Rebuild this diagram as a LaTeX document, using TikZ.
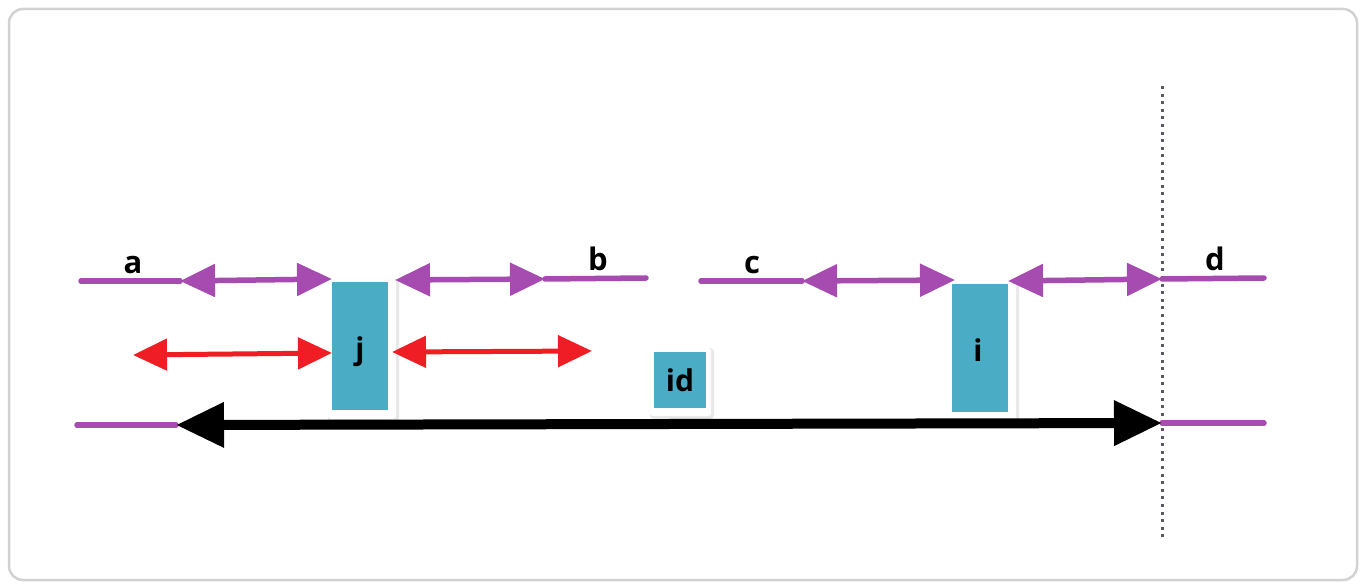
\documentclass[tikz,border=0pt]{standalone}
\usepackage{fontspec}
\setmainfont{Open Sans}
\usetikzlibrary{arrows.meta}
\definecolor{purp}{RGB}{166,76,176}
\definecolor{redarr}{RGB}{238,30,36}
\definecolor{boxblue}{RGB}{75,172,198}
\definecolor{dotgray}{RGB}{90,90,100}
\begin{document}
\begin{tikzpicture}[x=1pt,y=-1pt,
  lbl/.style={font=\fontsize{31}{36}\selectfont\bfseries, inner sep=0pt, anchor=base},
  blk/.style={fill=boxblue, draw=none, inner sep=0pt, font=\fontsize{30}{36}\selectfont\bfseries},
  shadowbox/.style={fill=gray!18, rounded corners=4pt},
  pline/.style={draw=purp, line width=5.5pt, line cap=round},
  parr/.style={draw=purp, line width=5.5pt, {Triangle[length=35pt,width=32pt]}-{Triangle[length=35pt,width=32pt]}},
  rarr/.style={draw=redarr, line width=5pt, {Triangle[length=34pt,width=31pt]}-{Triangle[length=34pt,width=31pt]}},
  barr/.style={draw=black, line width=10pt, {Triangle[length=48pt,width=43pt]}-{Triangle[length=48pt,width=43pt]}}
]
\useasboundingbox (0,0) rectangle (1366,588);
\draw[draw=gray!35, line width=2.5pt, rounded corners=14pt, fill=white] (9,9) rectangle (1357,580);

% box shadows
\fill[shadowbox] (328,279) rectangle (399,422);
\fill[white, rounded corners=3pt] (328,279) rectangle (396,419);
\fill[shadowbox] (948,281) rectangle (1019,424);
\fill[white, rounded corners=3pt] (948,281) rectangle (1016,421);
\fill[shadowbox] (650,348) rectangle (714,419);
\fill[white, rounded corners=3pt] (650,348) rectangle (711,416);

% boxes
\node[blk, minimum width=56pt, minimum height=128pt] (j) at (360,346) {};
\node[blk] (jt) at (360,352) {j};
\node[blk, minimum width=56pt, minimum height=128pt] (i) at (980,348) {};
\node[blk] (it) at (978,350) {i};
\node[blk, minimum width=52pt, minimum height=56pt] (id) at (680,380) {id};

% coordinates
\coordinate (a0) at (81,281);
\coordinate (a1) at (180,281);
\coordinate (jtl) at (332,279);
\coordinate (jtr) at (395,280);
\coordinate (b0) at (545,279);
\coordinate (b1) at (646,278);
\coordinate (c0) at (701,281);
\coordinate (c1) at (802,281);
\coordinate (itl) at (955,280);
\coordinate (itr) at (1008,281);
\coordinate (dtop) at (1162,279);
\coordinate (d1) at (1264,278);
\coordinate (r0) at (133,355);
\coordinate (jml) at (332,353);
\coordinate (jmr) at (392,352);
\coordinate (r1) at (592,351);
\coordinate (e0) at (77,425);
\coordinate (e1) at (176,425);
\coordinate (dbot) at (1162,423);
\coordinate (e2) at (1264,423);
\coordinate (vt) at (1162,86);
\coordinate (vb) at (1162,540);

% dotted vertical
\draw[dotgray, line width=3pt, dash pattern=on 3pt off 4.6pt] (vt) -- (vb);

% purple plain lines
\draw[pline] (a0) -- (a1);
\draw[pline] (b0) -- (b1);
\draw[pline] (c0) -- (c1);
\draw[pline] (dtop) -- (d1);
\draw[pline] (e0) -- (e1);
\draw[pline] (dbot) -- (e2);

% purple arrows
\draw[parr] (a1) -- (jtl);
\draw[parr] (jtr) -- (b0);
\draw[parr] (c1) -- (itl);
\draw[parr] (itr) -- (dtop);

% red arrows
\draw[rarr] (r0) -- (jml);
\draw[rarr] (jmr) -- (r1);

% black arrow
\draw[barr] (e1) -- (dbot);

% labels
\node[lbl] (la) at (133,273) {a};
\node[lbl] (lb) at (598,271) {b};
\node[lbl] (lc) at (752,273) {c};
\node[lbl] (ld) at (1215,271) {d};
\end{tikzpicture}
\end{document}
